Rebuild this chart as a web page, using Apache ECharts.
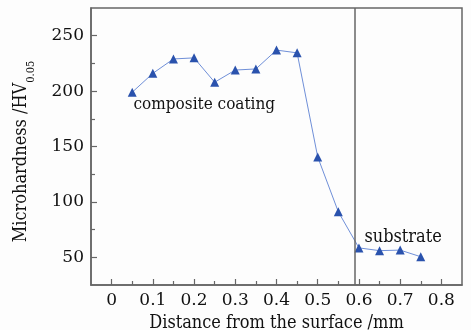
<!DOCTYPE html>
<html><head><meta charset="utf-8">
<script src="https://cdn.jsdelivr.net/npm/echarts@6/dist/echarts.min.js"></script>
<style>html,body{margin:0;padding:0;background:#fdfdfd}#c{width:471px;height:330px}</style>
</head><body><div id="c"></div>
<script>
const distance = [0.05,0.1,0.15,0.2,0.25,0.3,0.35,0.4,0.45,0.5,0.55,0.6,0.65,0.7,0.75];
const hardness = [199,216,229,230,208,219,220,237,234.5,140.5,91,58.5,56,56.5,50.5];
const xTicks = [0,0.1,0.2,0.3,0.4,0.5,0.6,0.7,0.8];
const xMinor = [0.05,0.15,0.25,0.35,0.45,0.55,0.65,0.75];
const yTicks = [50,100,150,200,250];
const yMinor = [75,125,175,225];
const boundaryX = 0.595;
const annotationTexts = ['composite coating', 'substrate'];
const annotationX = [0.052, 0.612];
const annotationY = [188, 68];

const font = '"DejaVu Serif","Liberation Serif",serif';
const fontC = '"DejaVu Serif Condensed","DejaVu Serif",serif';
const annotationSizes = [17, 18];
const axisCol = '#666';
const chart = echarts.init(document.getElementById('c'));
const baseX = {type:'value', min:-0.05, max:0.85, splitLine:{show:false}};
const baseY = {type:'value', min:25, max:275, splitLine:{show:false}};
chart.setOption({
  animation:false,
  backgroundColor:'#fdfdfd',
  grid:{left:91, right:9, top:8, bottom:45, show:true, borderColor:axisCol, borderWidth:1.5, containLabel:false, outerBoundsMode:'none'},
  xAxis:[
    Object.assign({}, baseX, {
      name:'Distance from the surface /mm', nameLocation:'middle', nameGap:26,
      nameTextStyle:{fontFamily:fontC, fontSize:18, color:'#111'},
      axisLine:{onZero:false, lineStyle:{color:axisCol, width:1.5}},
      axisTick:{inside:true, length:6, customValues:xTicks, lineStyle:{color:axisCol, width:1.2}},
      axisLabel:{customValues:xTicks, fontFamily:font, fontSize:17, color:'#111', margin:7}
    }),
    Object.assign({}, baseX, {
      position:'bottom', axisLine:{show:false, onZero:false},
      axisTick:{inside:true, length:4, customValues:xMinor, lineStyle:{color:axisCol, width:1.2}},
      axisLabel:{show:false}
    })
  ],
  yAxis:[
    Object.assign({}, baseY, {
      name:'{a|Microhardness /HV}{b|0.05}', nameLocation:'middle', nameGap:54,
      nameTextStyle:{padding:[0,10,0,0], rich:{
        a:{fontFamily:fontC, fontSize:18, color:'#111'},
        b:{fontFamily:fontC, fontSize:11, color:'#111', padding:[20,0,0,0]}
      }},
      axisLine:{onZero:false, lineStyle:{color:axisCol, width:1.5}},
      axisTick:{inside:true, length:6, customValues:yTicks, lineStyle:{color:axisCol, width:1.2}},
      axisLabel:{customValues:yTicks, fontFamily:font, fontSize:17, color:'#111', margin:7}
    }),
    Object.assign({}, baseY, {
      position:'left', axisLine:{show:false, onZero:false},
      axisTick:{inside:true, length:4, customValues:yMinor, lineStyle:{color:axisCol, width:1.2}},
      axisLabel:{show:false}
    })
  ],
  series:[{
    type:'line',
    data:distance.map((d,i)=>[d,hardness[i]]),
    symbol:'triangle', symbolSize:9,
    lineStyle:{color:'#6f8fd8', width:1},
    itemStyle:{color:'#2a52ad'},
    markLine:{silent:true, symbol:'none', label:{show:false},
      lineStyle:{color:axisCol, width:1.5, type:'solid'},
      data:[{xAxis:boundaryX}]},
    markPoint:{silent:true, symbol:'rect', symbolSize:1, itemStyle:{color:'transparent'},
      label:{show:true, position:'right', distance:0, fontFamily:fontC, color:'#111',
        formatter:p=>p.name},
      data:annotationTexts.map((t,i)=>({name:t, coord:[annotationX[i],annotationY[i]],
        label:{fontSize:annotationSizes[i]}}))}
  }]
});
</script></body></html>
